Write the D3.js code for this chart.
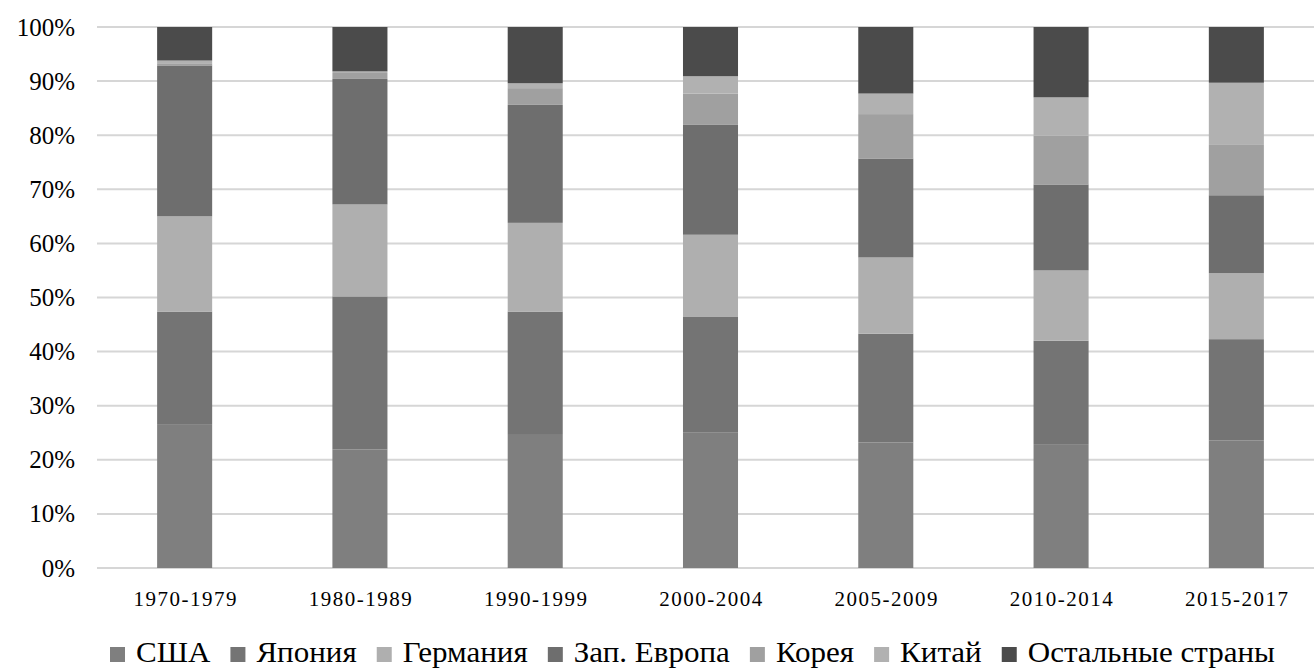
<!DOCTYPE html>
<html>
<head>
<meta charset="utf-8">
<script src="https://cdn.jsdelivr.net/npm/d3@7"></script>
</head>
<body style="margin:0;background:#fff">
<div id="chart"></div>
<script>
// periods on the x axis
var periods = ["1970-1979", "1980-1989", "1990-1999", "2000-2004", "2005-2009", "2010-2014", "2015-2017"];

// series, shares in % (bottom to top)
var usa     = [26.6, 21.9, 24.6, 25.1, 23.2, 22.9, 23.6];
var japan   = [20.8, 28.3, 22.8, 21.3, 20.1, 19.1, 18.7];
var germany = [17.6, 17.0, 16.4, 15.2, 14.1, 13.0, 12.2];
var europe  = [27.9, 23.2, 21.8, 20.3, 18.3, 15.9, 14.4];
var korea   = [0.4, 1.1, 3.1, 5.8, 8.2, 9.0, 9.3];
var china   = [0.5, 0.3, 0.9, 3.2, 3.8, 7.1, 11.5];
var others  = [6.2, 8.2, 10.4, 9.1, 12.3, 13.0, 10.3];

var seriesNames = ["США", "Япония", "Германия", "Зап. Европа", "Корея", "Китай", "Остальные страны"];
var yTicks = [0, 10, 20, 30, 40, 50, 60, 70, 80, 90, 100];

var colors = ["#7f7f7f", "#747474", "#afafaf", "#6e6e6e", "#a0a0a0", "#b1b1b1", "#4b4b4b"];

var FONT = "'Liberation Serif', 'Times New Roman', serif";

var W = 1314, H = 670;
var margin = {top: 27, left: 97, bottom: 102};
var plotBottom = H - margin.bottom;

var allSeries = [usa, japan, germany, europe, korea, china, others];
var table = periods.map(function (p, i) {
    var row = {period: p};
    seriesNames.forEach(function (n, k) { row[n] = allSeries[k][i]; });
    return row;
});

var stacked = d3.stack().keys(seriesNames)(table);

var x = d3.scaleBand()
    .domain(periods)
    .range([margin.left, 1324])
    .paddingInner(0.686)
    .paddingOuter(0.343);

var y = d3.scaleLinear()
    .domain([0, 100])
    .range([plotBottom, margin.top]);

var svg = d3.select("#chart").append("svg")
    .attr("width", W)
    .attr("height", H);

// gridlines
svg.append("g")
    .selectAll("line")
    .data(yTicks)
    .enter().append("line")
    .attr("x1", margin.left)
    .attr("x2", W)
    .attr("y1", function (d) { return y(d); })
    .attr("y2", function (d) { return y(d); })
    .attr("stroke", "#d6d6d6")
    .attr("stroke-width", 2);

// y axis labels
svg.append("g")
    .selectAll("text")
    .data(yTicks)
    .enter().append("text")
    .attr("x", 75)
    .attr("y", function (d) { return y(d); })
    .attr("dy", "0.34em")
    .attr("text-anchor", "end")
    .attr("font-family", FONT)
    .attr("font-size", 25)
    .attr("fill", "#000")
    .text(function (d) { return d + "%"; });

// bars
var groups = svg.append("g").selectAll("g")
    .data(stacked)
    .enter().append("g")
    .attr("fill", function (d, i) { return colors[i]; });

groups.selectAll("rect")
    .data(function (d) { return d; })
    .enter().append("rect")
    .attr("x", function (d) { return x(d.data.period); })
    .attr("width", x.bandwidth())
    .attr("y", function (d) { return y(d[1]); })
    .attr("height", function (d) { return y(d[0]) - y(d[1]); });

// x axis labels
svg.append("g")
    .selectAll("text")
    .data(periods)
    .enter().append("text")
    .attr("x", function (d) { return x(d) + x.bandwidth() / 2 + 1; })
    .attr("y", plotBottom + 38)
    .attr("text-anchor", "middle")
    .attr("font-family", FONT)
    .attr("font-size", 21)
    .attr("letter-spacing", "1.5")
    .attr("fill", "#000")
    .text(function (d) { return d; });

// legend: markers 15px, 11px to text, 20px between items, stretched to span 110..1275
var legend = svg.append("g").attr("transform", "translate(0,662)");
var items = seriesNames.map(function (n, i) {
    var t = legend.append("text")
        .attr("font-family", FONT)
        .attr("font-size", 30)
        .attr("fill", "#000")
        .text(n);
    return {t: t, w: t.node().getComputedTextLength(), i: i};
});
var sumText = d3.sum(items, function (d) { return d.w; });
var fixed = items.length * (15 + 11) + (items.length - 1) * 20;
var sx = (1275 - 110 - fixed) / sumText;
var lx = 110;
items.forEach(function (d) {
    legend.append("rect")
        .attr("x", lx)
        .attr("y", -15)
        .attr("width", 15)
        .attr("height", 15)
        .attr("fill", colors[d.i]);
    d.t.attr("transform", "translate(" + (lx + 15 + 11) + ",0) scale(" + sx + ",1)");
    lx += 15 + 11 + d.w * sx + 20;
});
</script>
</body>
</html>
